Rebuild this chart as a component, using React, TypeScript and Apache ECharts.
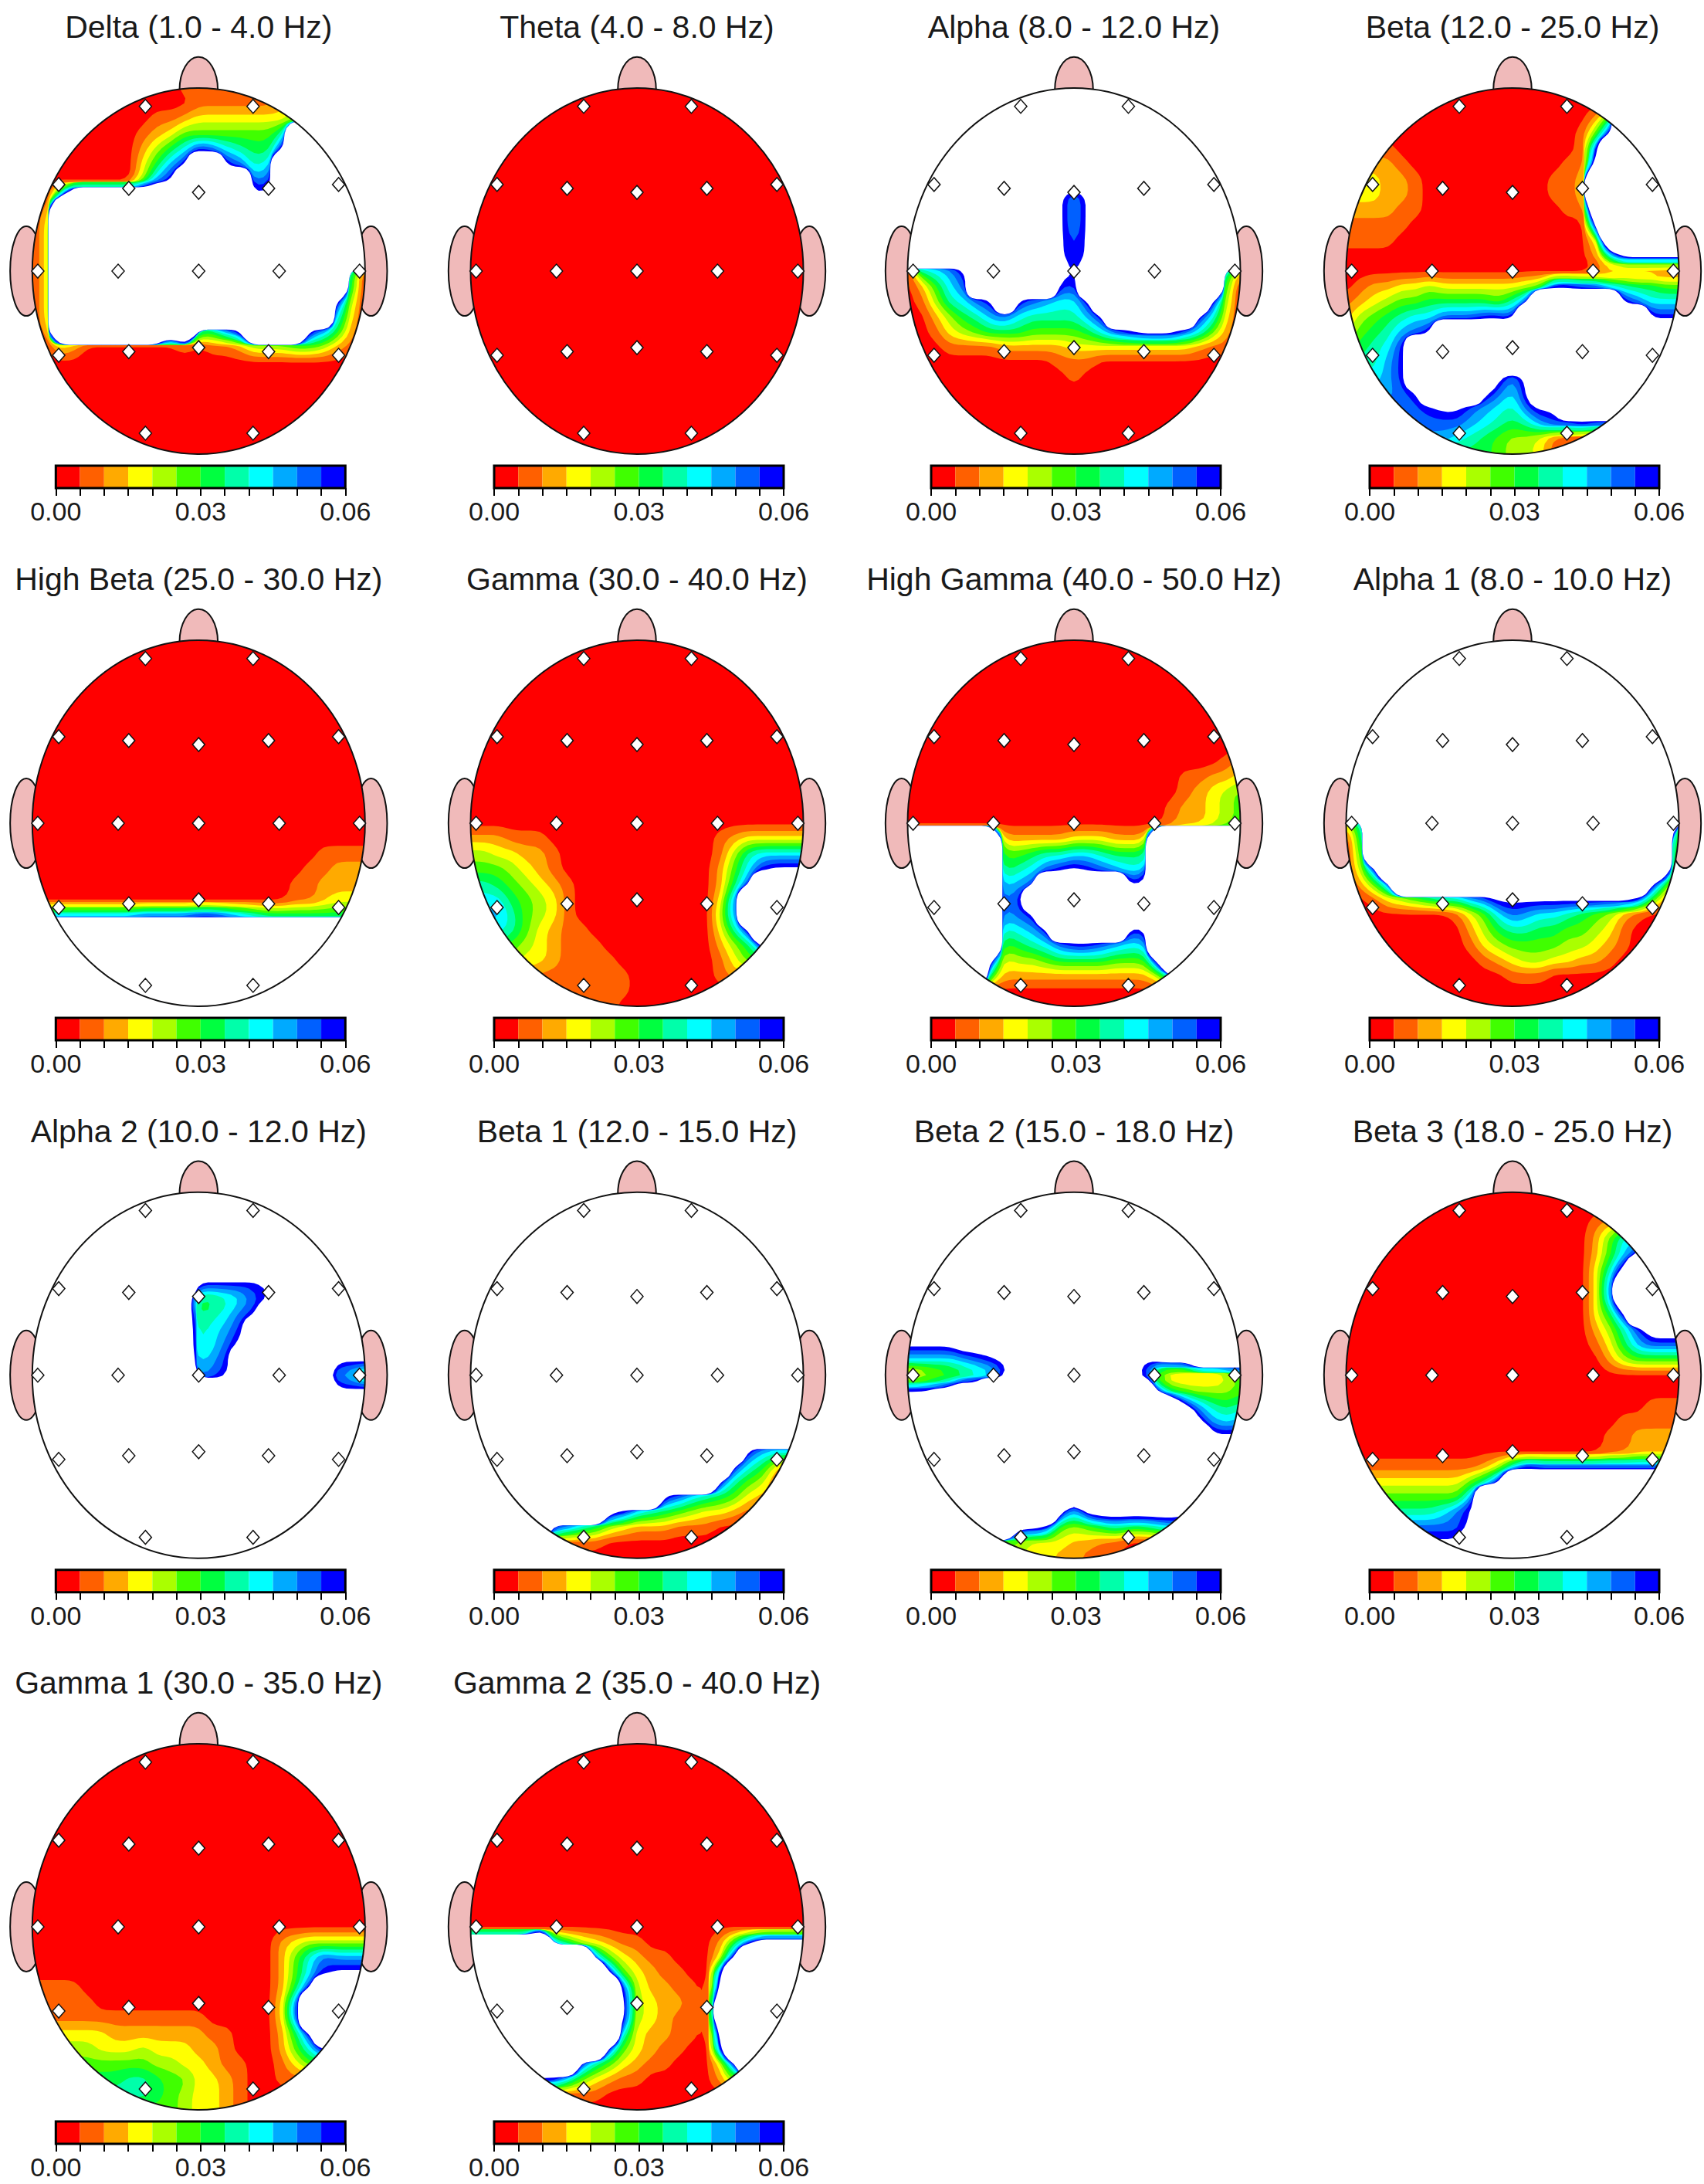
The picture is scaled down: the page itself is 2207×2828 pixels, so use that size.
import React, { useEffect, useRef } from "react";
import * as echarts from "echarts";

const titles = [
  "Delta (1.0 - 4.0 Hz)", "Theta (4.0 - 8.0 Hz)", "Alpha (8.0 - 12.0 Hz)", "Beta (12.0 - 25.0 Hz)",
  "High Beta (25.0 - 30.0 Hz)", "Gamma (30.0 - 40.0 Hz)", "High Gamma (40.0 - 50.0 Hz)", "Alpha 1 (8.0 - 10.0 Hz)",
  "Alpha 2 (10.0 - 12.0 Hz)", "Beta 1 (12.0 - 15.0 Hz)", "Beta 2 (15.0 - 18.0 Hz)", "Beta 3 (18.0 - 25.0 Hz)",
  "Gamma 1 (30.0 - 35.0 Hz)", "Gamma 2 (35.0 - 40.0 Hz)",
];

const bandColors = ["#ff0000", "#ff6000", "#ffaa00", "#ffff00", "#aaff00", "#40ff00", "#00ff40", "#00ffaa", "#00ffff", "#00aaff", "#0060ff", "#0000ff"];
const barEdges = [0, 0.005, 0.01, 0.015, 0.02, 0.025, 0.03, 0.035, 0.04, 0.045, 0.05, 0.055, 0.06];
const barLabels = [0, 0.03, 0.06];

const electrodes = [
  [-0.32, 0.9], [0.327, 0.9],
  [-0.841, 0.473], [-0.42, 0.452], [0, 0.43], [0.42, 0.452], [0.841, 0.473],
  [-0.967, 0], [-0.484, 0], [0, 0], [0.484, 0], [0.967, 0],
  [-0.841, -0.46], [-0.42, -0.44], [0, -0.418], [0.42, -0.44], [0.841, -0.46],
  [-0.32, -0.886], [0.327, -0.886],
];

// Band at a 25 x 25 lattice over the head's bounding box.
// 0-9,a,b = colour band; c,d,x,w = above the scale (white). "n{5}" repeats; short rows carry their last mark on.
const deltaRows = ["0{11}1", "0{12}1{6}2", "0{9}1123{7}5", "0{8}1235{7}7w", "0{8}2468ba8766bw", "0{8}369bwwba78w", "0{8}49bw{5}9aw", "008x{8}w{5}ccw", "02w", "03w", "03w", "03w", "03w{21}60", "03w{21}60", "03w{20}b40", "03w{20}830", "02w{8}xw669bw{4}b9620", "00320{7}10112444554210", "0"];
const thetaRows = ["0"];
const alphaRows = ["w", "w", "w", "w", "w", "w", "w{12}xw", "w{11}c9cw", "w{11}c9cw", "w{11}c9cw", "w{11}cacw", "w{11}cacw", "0789bw{6}dbdw{9}72", "0258aw{6}baw{10}50", "01478abwba988bw{8}b40", "0024679a877779bw{6}b830", "001345666555568abccca8520", "0001111222223{9}2110", "0{11}1110", "0{12}10", "0"];
const betaRows = ["0", "0", "0{18}26w", "0{17}15bw", "1{4}0{13}1bw", "2{4}10{11}11cw", "3332210{9}112w", "3332210{9}112w", "2{4}110{10}11xw", "1{5}0{13}cw", "1{4}0{14}3xw", "0{18}28c", "0", "012233433333345bbaa876655", "1234556666657aw{6}ba888", "2456788aaabbaw{9}bbb", "35679abw", "5678bw", "6779bw", "8889bw{6}c9cw", "9999abw{4}ca8cw", "aaaaaabcca987accw", "a{9}987679aaba", "9{7}9876544311 0", "6{11}544310"].map((r) => r.replace(" ", ""));
const highBetaRows = ["0", "0", "0", "0", "0", "0", "0", "0", "0", "0", "0", "0", "0", "0", "0{21}1", "0{20}112", "0{19}11222", "0{19}11233", "8{8}9{4}aa9876{8}", "w"];
const gammaRows = ["0", "0", "0", "0", "0", "0", "0", "0", "0", "0", "0", "0", "0", "2221110{12}1233", "44332210{11}1478", "55543210{11}258bc", "776543210{10}26aw", "888654310{10}39w", "999754310{10}49w", "8887532110{9}37bw", "66654321110{8}246bw", "44443321{4}0{7}135", "2{5}1{7}0{6}12", "1{12}0", "1{11}0"];
const highGammaRows = ["0", "0", "0", "0", "0", "0", "0", "0", "0{23}12", "0{20}11223", "0{20}12345", "0{19}122345", "0{19}122345", "w{7}22222333222w", "w{7}55677887666w", "w{7}678abcba988w", "w{7}89aw{6}bcw", "w{7}9bw", "w{7}9abw", "w{7}789bw{5}bbw", "w{7}5678abba988w", "w{6}c34456666555cw", "w{6}62{11}49w", "0"];
const alpha1Rows = ["w", "w", "w", "w", "w", "w", "w", "w", "w", "w", "w", "w", "37w{22}5", "06w{21}x1", "05w{21}x0", "04aw{20}x0", "0259w{18}c62", "0013456779ac{10}b620", "0{8}1358a9887654210", "0{9}2467766554310", "0{9}1345555443210", "0{10}12344332210", "0{12}1110", "0"];
const alpha2Rows = ["w", "w", "w", "w", "w", "w", "w{12}b{5}cw", "w{11}d6678abw", "w{11}x678abw", "w{11}x789bw", "w{11}x78acw", "w{11}x89bw{7}ccc", "w{11}x9abw{5}cc985", "w{12}xxw{8}ccc", "w"];
const beta1Rows = ["w", "w", "w", "w", "w", "w", "w", "w", "w", "w", "w", "w", "w", "w", "w", "w", "w", "w{20}b9888", "w{19}b8631", "w{18}b7541", "w{14}ba876532", "w{10}cb876543321", "w{6}a976432221110", "1{10}0", "0"];
const beta2Rows = ["w", "w", "w", "w", "w", "w", "w", "w", "w", "w", "ccccdddw", "88889abcw{9}ccddxxxx", "1234567axw{7}ca3112235", "bbcdxxw{12}a654445", "w{19}xc9767", "w{21}c989", "w{22}c", "w", "w", "w", "w{12}cw", "w{11}c8cd{6}cbw", "w{8}ccb5456766789aw", "5{8}433322110", "4{9}33221110"];
const beta3Rows = ["0", "0", "0{18}12", "0{18}258", "0{18}258bw", "0{18}37cw", "0{18}39xw", "0{18}39xw", "0{18}36bw", "0{18}247ad", "0{18}1369a", "0{19}245", "0", "0", "0{22}1", "0{20}1", "0{19}112", "0{19}112", "1{10}248ba", "3{9}57bw", "5{9}9w", "7{7}8acw", "a{9}cw", "c{9}w", "w"];
const gamma1Rows = ["0", "0", "0", "0", "0", "0", "0", "0", "0", "0", "0", "0", "0", "0{18}234", "0{18}258a9", "0{18}258bc", "1{4}0{14}26bw", "1{5}0{13}3aw", "1{13}0{5}3aw", "3{6}2{7}110{3}26bw", "4{5}33343332210{3}258c", "5{9}443321100135", "6{7}7765533210011", "7{9}65433210", "5{11}433210"];
const gamma2Rows = ["0", "0", "0", "0", "0", "0", "0", "0", "0", "0", "0", "0", "0", "xxxxxw86432110{5}26ad", "w{9}9532110{3}3bw", "w{10}b532110{2}bw", "w{11}b422110cw", "w{11}c432210xw", "w{11}c432110xw", "w{11}8322110cw", "w{10}a5321100bw", "w{8}a7532110{3}3aw", "b{7}8532110{5}25", "1{10}0", "0"];

const panelRows = [deltaRows, thetaRows, alphaRows, betaRows, highBetaRows, gammaRows, highGammaRows, alpha1Rows, alpha2Rows, beta1Rows, beta2Rows, beta3Rows, gamma1Rows, gamma2Rows];

const LATTICE = 25;
const REFINE = 3;
const FINE = (LATTICE - 1) * REFINE + 1;
const colCentres = [257.3, 825, 1391, 1959];
const rowCentres = [351, 1066, 1780.7, 2495];
const RX = 215.5;
const RY = 237;
const SPAN = 1.19;

const aboveScale: Record<string, number> = { c: 12.5, d: 14, x: 20, w: 40 };
const markValue = (ch: string) => (ch in aboveScale ? aboveScale[ch] : parseInt(ch, 12) + 0.5);

function readField(rows: string[]) {
  const out: number[][] = [];
  for (let j = 0; j < LATTICE; j++) {
    let s = rows[Math.min(j, rows.length - 1)].replace(/(.)\{(\d+)\}/g, (_, c, n) => c.repeat(+n));
    if (s.length < LATTICE) s += s[s.length - 1].repeat(LATTICE - s.length);
    out.push(s.slice(0, LATTICE).split("").map(markValue));
  }
  return out;
}

// Contouring step: finer mesh over the lattice.
function refineField(f: number[][]) {
  const g: number[][] = [];
  for (let j = 0; j < FINE; j++) {
    const row: number[] = [];
    const fy = j / REFINE;
    const j0 = Math.min(Math.floor(fy), LATTICE - 2);
    const ty = fy - j0;
    for (let i = 0; i < FINE; i++) {
      const fx = i / REFINE;
      const i0 = Math.min(Math.floor(fx), LATTICE - 2);
      const tx = fx - i0;
      row.push(
        (1 - ty) * ((1 - tx) * f[j0][i0] + tx * f[j0][i0 + 1]) + ty * ((1 - tx) * f[j0 + 1][i0] + tx * f[j0 + 1][i0 + 1])
      );
    }
    g.push(row);
  }
  return g;
}

// Rounds one iso-line at a time, so a very high neighbour does not swamp the band beside it.
function levelSet(fine: number[][], level: number) {
  let g = fine.map((row) => row.map((v) => Math.max(-1, Math.min(1, v - level))));
  const clampI = (v: number) => Math.max(0, Math.min(FINE - 1, v));
  for (let pass = 0; pass < 2; pass++) {
    const src = g;
    g = src.map((row, j) =>
      row.map((_, i) => {
        let s = 0;
        for (let dj = -1; dj <= 1; dj++) for (let di = -1; di <= 1; di++) s += src[clampI(j + dj)][clampI(i + di)];
        return s / 9;
      })
    );
  }
  return g;
}

const toX = (i: number) => (i / REFINE - 12) / 12;
const toY = (j: number) => (12 - j / REFINE) / 12;

function levelPolys(f: number[][]) {
  const level = 0;
  const polys: number[][][] = [];
  for (let j = 0; j < FINE - 1; j++) {
    let runStart = -1;
    const flush = (end: number) => {
      if (runStart >= 0) {
        polys.push([[toX(runStart), toY(j)], [toX(end), toY(j)], [toX(end), toY(j + 1)], [toX(runStart), toY(j + 1)]]);
        runStart = -1;
      }
    };
    for (let i = 0; i < FINE - 1; i++) {
      const cs = [[i, j], [i + 1, j], [i + 1, j + 1], [i, j + 1]];
      const vs = cs.map(([a, b]) => f[b][a]);
      if (vs.every((v) => v >= level)) {
        if (runStart < 0) runStart = i;
        continue;
      }
      flush(i);
      if (vs.every((v) => v < level)) continue;
      const poly: number[][] = [];
      for (let k = 0; k < 4; k++) {
        const n = (k + 1) % 4;
        if (vs[k] >= level) poly.push([toX(cs[k][0]), toY(cs[k][1])]);
        if (vs[k] >= level !== vs[n] >= level) {
          const t = (level - vs[k]) / (vs[n] - vs[k]);
          poly.push([toX(cs[k][0] + t * (cs[n][0] - cs[k][0])), toY(cs[k][1] + t * (cs[n][1] - cs[k][1]))]);
        }
      }
      polys.push(poly);
    }
    flush(FINE - 1);
  }
  return polys;
}

const headParts = [
  { c: [-1.036, 0], r: [0.097, 0.245] },
  { c: [1.036, 0], r: [0.097, 0.245] },
  { c: [0, 0.99], r: [0.115, 0.18] },
];

echarts.graphic.registerShape(
  "bandFill",
  echarts.graphic.extendShape({
    type: "bandFill",
    shape: { polys: [] as number[][][] },
    buildPath(ctx: any, shape: any) {
      for (const poly of shape.polys) {
        ctx.moveTo(poly[0][0], poly[0][1]);
        for (let i = 1; i < poly.length; i++) ctx.lineTo(poly[i][0], poly[i][1]);
        ctx.closePath();
      }
    },
  }) as any
);

const round1 = (p: number[]) => [Math.round(p[0] * 10) / 10, Math.round(p[1] * 10) / 10];

function buildOption() {
  const grid: any[] = [];
  const xAxis: any[] = [];
  const yAxis: any[] = [];
  const series: any[] = [];
  const title: any[] = [];
  titles.forEach((text, p) => {
    const cx = colCentres[p % 4];
    const cy = rowCentres[Math.floor(p / 4)];
    title.push({
      text, left: cx, top: cy - 316, textAlign: "center", textVerticalAlign: "middle", padding: 0,
      textStyle: { fontFamily: "Liberation Sans", fontSize: 41, fontWeight: "normal", color: "#1a1a1a" },
    });
    // head grid
    const g = grid.length;
    grid.push({ left: cx - SPAN * RX, top: cy - SPAN * RY, width: 2 * SPAN * RX, height: 2 * SPAN * RY, outerBoundsMode: "none" });
    xAxis.push({ type: "value", gridIndex: g, min: -SPAN, max: SPAN, show: false });
    yAxis.push({ type: "value", gridIndex: g, min: -SPAN, max: SPAN, show: false });
    const field = refineField(readField(panelRows[p]));
    const levels = bandColors.map((_, k) => k).slice(1).concat([12]);
    const polysByLevel: Record<number, number[][][]> = {};
    levels.forEach((k) => (polysByLevel[k] = levelPolys(levelSet(field, k))));
    const ellipseAt = (api: any, c: number[], r: number[]) => {
      const o = api.coord(c);
      const s = api.size(r);
      return { cx: o[0], cy: o[1], rx: s[0], ry: Math.abs(s[1]) };
    };
    series.push({
      type: "custom", xAxisIndex: g, yAxisIndex: g, clip: false, silent: true, z: 2,
      data: headParts.map((h) => [h.c[0], h.c[1]]),
      encode: { x: 0, y: 1 },
      renderItem: (params: any, api: any) => {
        const h = headParts[params.dataIndex];
        return { type: "ellipse", shape: ellipseAt(api, h.c, h.r), style: { fill: "#f0baba", stroke: "#111", lineWidth: 2 } };
      },
    });
    series.push({
      type: "custom", xAxisIndex: g, yAxisIndex: g, clip: false, silent: true, z: 3,
      data: [[0, 0]], encode: { x: 0, y: 1 },
      renderItem: (_: any, api: any) => ({ type: "ellipse", shape: ellipseAt(api, [0, 0], [1, 1]), style: { fill: "#ff0000" } }),
    });
    series.push({
      type: "custom", xAxisIndex: g, yAxisIndex: g, clip: false, silent: true, z: 4,
      data: levels.filter((k) => polysByLevel[k].length).map((k) => [0, 0, k]), encode: { x: 0, y: 1 },
      renderItem: (_: any, api: any) => {
        const k = api.value(2);
        const polys = polysByLevel[k].map((poly) => poly.map((pt) => round1(api.coord(pt))));
        return {
          type: "bandFill", shape: { polys },
          style: { fill: k >= 12 ? "#ffffff" : bandColors[k] },
          clipPath: { type: "ellipse", shape: ellipseAt(api, [0, 0], [1, 1]) },
        };
      },
    });
    series.push({
      type: "custom", xAxisIndex: g, yAxisIndex: g, clip: false, silent: true, z: 5,
      data: [[0, 0]], encode: { x: 0, y: 1 },
      renderItem: (_: any, api: any) => ({ type: "ellipse", shape: ellipseAt(api, [0, 0], [1, 1]), style: { fill: "none", stroke: "#111", lineWidth: 2 } }),
    });
    series.push({
      type: "scatter", xAxisIndex: g, yAxisIndex: g, clip: false, silent: true, z: 6,
      data: electrodes, symbol: "diamond", symbolSize: [16, 18],
      itemStyle: { color: "#fff", borderColor: "#111", borderWidth: 1.5, opacity: 1 },
    });
    // colour bar grid
    const b = grid.length;
    grid.push({ left: cx - 185, top: cy + 252, width: 375, height: 29, outerBoundsMode: "none" });
    xAxis.push({
      type: "value", gridIndex: b, min: 0, max: 0.06, interval: 0.005, position: "bottom",
      axisLine: { show: true, onZero: false, lineStyle: { color: "#000", width: 2 } },
      axisTick: { show: true, length: 10, lineStyle: { color: "#000", width: 2 } },
      splitLine: { show: false },
      axisLabel: {
        show: true, margin: 13, fontSize: 34, fontFamily: "Liberation Sans", color: "#1a1a1a", verticalAlign: "top",
        showMinLabel: true, showMaxLabel: true, hideOverlap: false,
        formatter: (v: number) => (barLabels.some((l) => Math.abs(l - v) < 1e-6) ? v.toFixed(2) : ""),
      },
    });
    yAxis.push({ type: "value", gridIndex: b, min: 0, max: 1, show: false });
    series.push({
      type: "custom", xAxisIndex: b, yAxisIndex: b, clip: false, silent: true, z: 4,
      data: bandColors.map((_, k) => [barEdges[k], barEdges[k + 1]]).concat([[0, 0.06]]),
      encode: { x: [0, 1] },
      renderItem: (params: any, api: any) => {
        const a = api.coord([api.value(0), 1]);
        const c = api.coord([api.value(1), 0]);
        const shape = { x: a[0], y: a[1], width: c[0] - a[0], height: c[1] - a[1] };
        const i = params.dataIndex;
        return i < bandColors.length
          ? { type: "rect", shape, style: { fill: bandColors[i] } }
          : { type: "rect", shape, style: { fill: "none", stroke: "#000", lineWidth: 3 } };
      },
    });
  });
  return { animation: false, backgroundColor: "#fff", title, grid, xAxis, yAxis, series };
}

export default function App() {
  const ref = useRef<HTMLDivElement>(null);
  useEffect(() => {
    document.body.style.margin = "0";
    const chart = echarts.init(ref.current!, undefined, { renderer: "svg" });
    chart.setOption(buildOption() as any);
    return () => chart.dispose();
  }, []);
  return <div ref={ref} style={{ width: 2207, height: 2828 }} />;
}
